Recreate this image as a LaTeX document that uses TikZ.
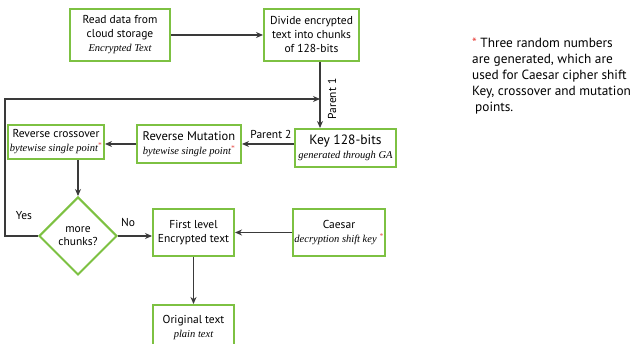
\documentclass[tikz,border=0pt]{standalone}
\usepackage{fontspec}
\setmainfont{PT Sans}
\newfontfamily\itserif{Liberation Serif}
\usetikzlibrary{arrows.meta,shapes.geometric,calc}
\definecolor{boxgreen}{HTML}{7DC142}
\definecolor{linegray}{HTML}{3A3A3A}
\definecolor{astred}{HTML}{E8413C}
\newcommand\subt[1]{{\itserif\itshape\fontsize{10.5}{13}\selectfont #1}}
\newcommand\redast{\textsuperscript{\textcolor{astred}{*}}}
\begin{document}
\begin{tikzpicture}[x=1pt,y=-1pt,
  box/.style={draw=boxgreen,line width=2pt,fill=white,align=center,inner sep=1pt,
    font=\fontsize{11.5}{14}\selectfont},
  dia/.style={diamond,draw=boxgreen,line width=2pt,fill=white,align=center,inner sep=0pt,
    minimum width=78pt,minimum height=78pt,font=\fontsize{11.5}{13.5}\selectfont},
  arr/.style={draw=linegray,line width=1.1pt,-{Stealth[length=7pt,width=6pt]}},
  lbl/.style={font=\fontsize{11.5}{13}\selectfont,inner sep=0pt}]
\useasboundingbox (0,0) rectangle (635,344);
\begin{scope}
\clip (0,0) rectangle (635,344);
\node[box,minimum width=100pt,minimum height=52pt] (read) at (120,35)
  {Read data from\\cloud storage\\\subt{Encrypted Text}};
\node[box,minimum width=95pt,minimum height=52pt] (divide) at (311.5,35)
  {Divide encrypted\\text into chunks\\of 128-bits};
\node[box,minimum width=101pt,minimum height=38pt] (key) at (345.5,148)
  {{\fontsize{13.5}{15}\selectfont Key 128-bits}\\\subt{generated through GA}};
\node[box,minimum width=104pt,minimum height=38pt] (rmut) at (189,144)
  {{\fontsize{12.5}{14}\selectfont Reverse Mutation}\\\subt{bytewise single point\redast}};
\node[box,minimum width=96pt,minimum height=34pt] (rcross) at (56,142)
  {Reverse crossover\\\subt{bytewise single point\redast}};
\node[dia] (more) at (78,236) {more\\chunks?};
\node[box,minimum width=81pt,minimum height=47pt] (first) at (193.5,232.5)
  {First level\\Encrypted text};
\node[box,minimum width=91pt,minimum height=47pt] (caesar) at (339,232.5)
  {Caesar\\\subt{decryption shift key \redast}};
\node[box,minimum width=81pt,minimum height=46pt] (orig) at (193.5,328)
  {Original text\\\subt{plain text}};
\end{scope}
\coordinate (join) at (320,99);
\coordinate (leftx) at (5,99);
\draw[arr] (read.east) -- (divide.west);
\draw[arr] (divide.south -| join) -- (key.north -| join);
\node[lbl,rotate=90] (p1) at (332,99) {Parent 1};
\draw[arr] (more.west) -| (leftx) -- (join);
\draw[arr] (rmut.east -| key.west) -- (rmut.east);
\node[lbl] (p2) at (271,134) {Parent 2};
\draw[arr] (rmut.west) -- (rmut.west -| rcross.east);
\draw[arr] (rcross.south -| more.north) -- (more.north);
\node[lbl] (yes) at (24,216) {Yes};
\draw[arr] (more.east) -- (more.east -| first.west);
\node[lbl] (no) at (128,222) {No};
\draw[arr] (caesar.west) -- (first.east);
\draw[arr] (first.south) -- (orig.north);
\node[lbl,anchor=north west,align=left,font=\fontsize{13.3}{16}\selectfont] (note) at (472,38)
  {\textcolor{astred}{*} Three random numbers\\are generated, which are\\used for Caesar cipher shift\\Key, crossover and mutation\\\hspace*{3pt}points.};
\end{tikzpicture}
\end{document}
